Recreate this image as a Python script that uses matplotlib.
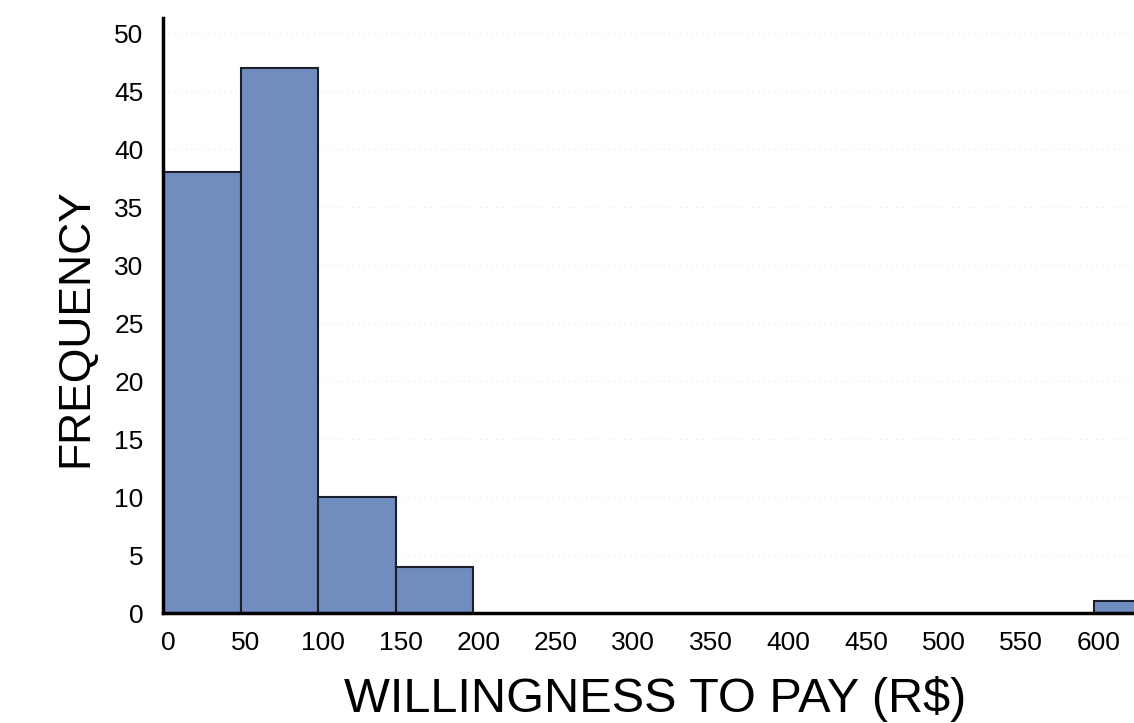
import numpy as np
import matplotlib
matplotlib.use("Agg")
import matplotlib.pyplot as plt
import matplotlib.transforms as mtransforms

plt.rcParams['font.family'] = ['Liberation Sans', 'DejaVu Sans']

# histogram of willingness to pay, bins of 50 R$
bin_left = [0, 50, 100, 150, 200, 250, 300, 350, 400, 450, 500, 550, 600]
counts = [38, 47, 10, 4, 0, 0, 0, 0, 0, 0, 0, 0, 1]
bin_width = 50
xticks = [0, 50, 100, 150, 200, 250, 300, 350, 400, 450, 500, 550, 600]
yticks = [0, 5, 10, 15, 20, 25, 30, 35, 40, 45, 50]

fig = plt.figure(figsize=(11.34, 7.23), dpi=100)
ax = fig.add_axes([0.1437, 0.1521, 0.8563, 0.823])

nz = [i for i, c in enumerate(counts) if c > 0]
ax.bar([bin_left[i] for i in nz], [counts[i] for i in nz], width=bin_width,
       align='edge', color='#6F8DBF', edgecolor='#1c1f2a', linewidth=1.5, zorder=3)

for y in yticks[1:]:
    ax.axhline(y, color='#ececec', linestyle=(0, (1, 3)), linewidth=1, zorder=1)

ax.set_xlim(0, 626)
ax.set_ylim(0, 51.3)
ax.set_xticks(xticks)
ax.set_yticks(yticks)
ax.tick_params(length=0, labelsize=19)
ax.tick_params(axis='x', pad=13)
ax.tick_params(axis='y', pad=14)
for s in ['top', 'right']:
    ax.spines[s].set_visible(False)
for s in ['left', 'bottom']:
    ax.spines[s].set_linewidth(2.5)
    ax.spines[s].set_zorder(4)

# x tick labels sit a little right of their bin edges in the original
shift = mtransforms.ScaledTranslation(0.05, 0, fig.dpi_scale_trans)
for lab in ax.get_xticklabels():
    lab.set_transform(lab.get_transform() + shift)

ax.set_xlabel('WILLINGNESS TO PAY (R$)', fontsize=35)
ax.set_ylabel('FREQUENCY', fontsize=32)
ax.xaxis.set_label_coords(0.507, -0.105)
ax.yaxis.set_label_coords(-0.069, 0.480)

fig.savefig('out.png', dpi=100)
